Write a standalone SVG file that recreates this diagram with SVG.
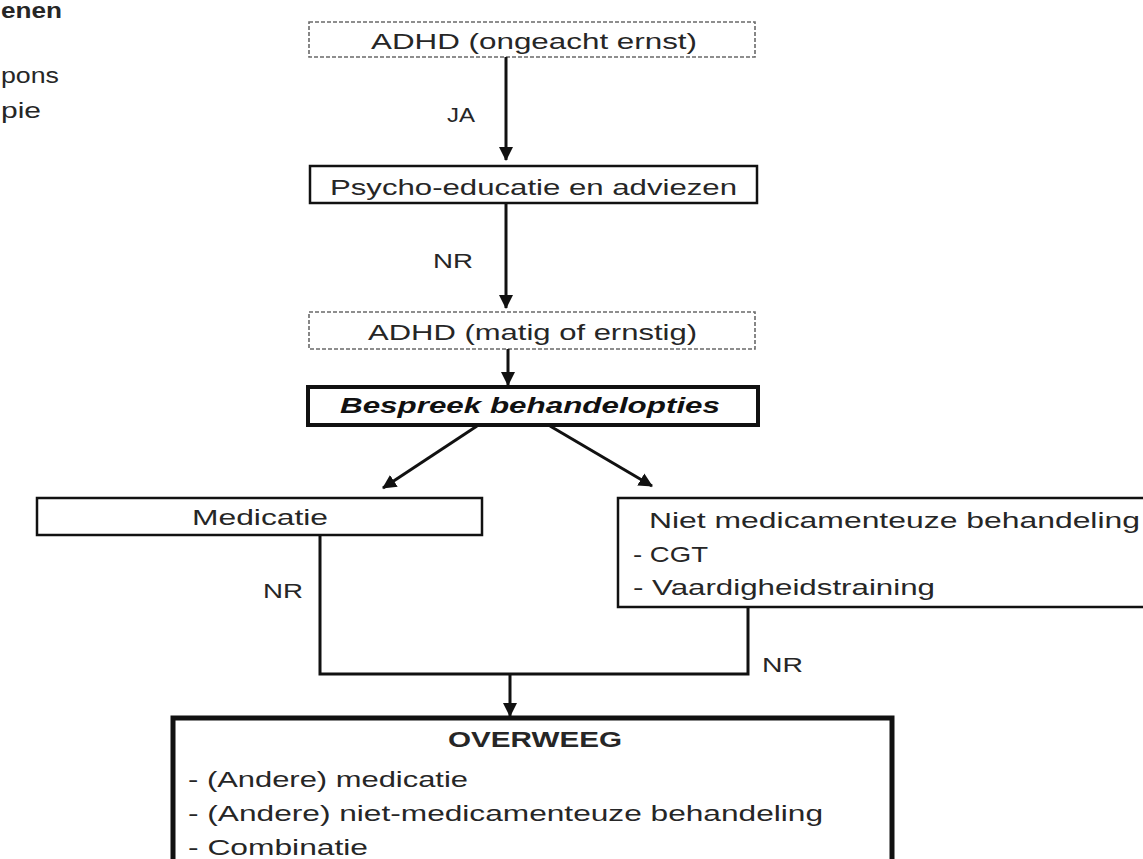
<svg xmlns="http://www.w3.org/2000/svg" width="1143" height="859" viewBox="0 0 1143 859">
<style>
  text { font-family: "Liberation Sans", Arial, sans-serif; font-size: 22px; fill: #262626; }
  .b { font-weight: bold; }
  .bi { font-weight: bold; font-style: italic; fill: #111; }
  .lbl { font-size: 21px; }
  .dash { fill: #fff; stroke: #6a6a6a; stroke-width: 1.6; stroke-dasharray: 4 2; }
  .solid { fill: #fff; stroke: #111; stroke-width: 2.5; }
  .thick { fill: #fff; stroke: #111; stroke-width: 4; }
  .thicker { fill: #fff; stroke: #111; stroke-width: 5; }
  .conn { fill: none; stroke: #111; stroke-width: 3; }
</style>
<defs>
  <marker id="ah" markerUnits="userSpaceOnUse" markerWidth="14" markerHeight="14" viewBox="0 0 14 14" refX="13" refY="7" orient="auto">
    <path d="M0,0 L14,7 L0,14 Z" fill="#111"/>
  </marker>
</defs>
<rect width="1143" height="859" fill="#fff"/>

<g id="side-text">
  <text class="b" x="1" y="18" textLength="61" lengthAdjust="spacingAndGlyphs">enen</text>
  <text x="1" y="83" textLength="58" lengthAdjust="spacingAndGlyphs">pons</text>
  <text x="1" y="118" textLength="40" lengthAdjust="spacingAndGlyphs">pie</text>
</g>

<g id="node-adhd-ongeacht">
  <rect class="dash" x="309" y="22" width="446" height="35"/>
  <text x="371" y="49" textLength="326" lengthAdjust="spacingAndGlyphs">ADHD (ongeacht ernst)</text>
</g>

<g id="node-psycho">
  <rect class="solid" x="310" y="166" width="447" height="37"/>
  <text x="330" y="195" textLength="407" lengthAdjust="spacingAndGlyphs">Psycho-educatie en adviezen</text>
</g>

<g id="node-adhd-matig">
  <rect class="dash" x="309" y="312" width="446" height="37"/>
  <text x="368" y="340" textLength="329" lengthAdjust="spacingAndGlyphs">ADHD (matig of ernstig)</text>
</g>

<g id="node-bespreek">
  <rect class="thick" x="308" y="387" width="450" height="38"/>
  <text class="bi" x="340" y="413" textLength="380" lengthAdjust="spacingAndGlyphs">Bespreek behandelopties</text>
</g>

<g id="node-medicatie">
  <rect class="solid" x="37" y="498" width="445" height="37"/>
  <text x="192" y="525" textLength="136" lengthAdjust="spacingAndGlyphs">Medicatie</text>
</g>

<g id="node-niet-medicamenteus">
  <rect class="solid" x="618" y="498" width="540" height="109"/>
  <text x="649" y="528" textLength="491" lengthAdjust="spacingAndGlyphs">Niet medicamenteuze behandeling</text>
  <text x="633" y="562" textLength="75" lengthAdjust="spacingAndGlyphs">- CGT</text>
  <text x="633" y="595" textLength="302" lengthAdjust="spacingAndGlyphs">- Vaardigheidstraining</text>
</g>

<g id="node-overweeg">
  <rect class="thicker" x="173" y="718" width="719" height="160"/>
  <text class="b" x="448" y="747" textLength="174" lengthAdjust="spacingAndGlyphs">OVERWEEG</text>
  <text x="188" y="787" textLength="280" lengthAdjust="spacingAndGlyphs">- (Andere) medicatie</text>
  <text x="188" y="821" textLength="635" lengthAdjust="spacingAndGlyphs">- (Andere) niet-medicamenteuze behandeling</text>
  <text x="188" y="855" textLength="180" lengthAdjust="spacingAndGlyphs">- Combinatie</text>
</g>

<g id="connectors">
  <line class="conn" x1="506" y1="57" x2="506" y2="160" marker-end="url(#ah)"/>
  <line class="conn" x1="506" y1="203" x2="506" y2="308" marker-end="url(#ah)"/>
  <line class="conn" x1="508" y1="349" x2="508" y2="385" marker-end="url(#ah)"/>
  <line class="conn" x1="477" y1="426" x2="383" y2="488" marker-end="url(#ah)"/>
  <line class="conn" x1="550" y1="426" x2="652" y2="486" marker-end="url(#ah)"/>
  <polyline class="conn" points="320,535 320,674 748,674 748,607"/>
  <line class="conn" x1="510" y1="674" x2="510" y2="716" marker-end="url(#ah)"/>
  <text class="lbl" x="447" y="122" textLength="28" lengthAdjust="spacingAndGlyphs">JA</text>
  <text class="lbl" x="433" y="268" textLength="40" lengthAdjust="spacingAndGlyphs">NR</text>
  <text class="lbl" x="263" y="598" textLength="40" lengthAdjust="spacingAndGlyphs">NR</text>
  <text class="lbl" x="762" y="672" textLength="41" lengthAdjust="spacingAndGlyphs">NR</text>
</g>
</svg>
